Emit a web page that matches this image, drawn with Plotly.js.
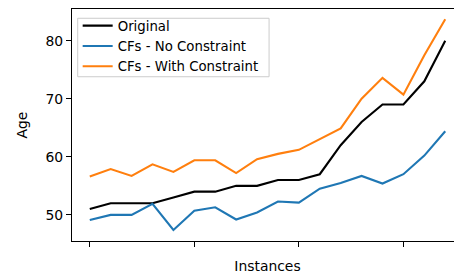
<!DOCTYPE html>
<html>
<head>
<meta charset="utf-8">
<script src="https://cdn.plot.ly/plotly-3.0.1.min.js"></script>
<style>
html,body{margin:0;padding:0;overflow:hidden;background:#fff;}
#chart{width:463px;height:276px;}
</style>
</head>
<body>
<div id="chart"></div>
<script>
const instances = [0,1,2,3,4,5,6,7,8,9,10,11,12,13,14,15,16,17];
const original = [51,52,52,52,53,54,54,55,55,56,56,57,62,66,69,69,73,80];
const cfsNoConstraint = [49.1,50,50,51.9,47.4,50.7,51.3,49.2,50.4,52.3,52.1,54.5,55.5,56.7,55.4,57,60.2,64.4];
const cfsWithConstraint = [56.6,57.9,56.7,58.7,57.4,59.4,59.4,57.2,59.6,60.5,61.2,63,64.9,70,73.6,70.7,77.5,83.7];
const seriesNames = ["Original","CFs - No Constraint","CFs - With Constraint"];
const xTicks = [0,5,10,15];
const yTicks = [50,60,70,80];

const font = "DejaVu Sans, sans-serif";
const traces = [
  {x: instances, y: original, name: seriesNames[0], mode: "lines", line: {color: "#000000", width: 2.1}},
  {x: instances, y: cfsNoConstraint, name: seriesNames[1], mode: "lines", line: {color: "#1f77b4", width: 2.1}},
  {x: instances, y: cfsWithConstraint, name: seriesNames[2], mode: "lines", line: {color: "#ff7f0e", width: 2.1}}
];
const layout = {
  width: 463, height: 276,
  margin: {l: 72, r: 0, t: 9, b: 35, pad: 0},
  paper_bgcolor: "#ffffff", plot_bgcolor: "#ffffff",
  font: {family: font, color: "#000000", size: 13.9},
  showlegend: true,
  legend: {
    x: 0.0145, y: 0.9935, xanchor: "left", yanchor: "top",
    bgcolor: "rgba(0,0,0,0)", borderwidth: 0,
    font: {family: font, size: 13.3, color: "#000000"},
    tracegroupgap: 0
  },
  shapes: [{
    type: "rect", xref: "paper", yref: "paper", layer: "above",
    x0: 0.0146, x1: 0.504, y0: 0.708, y1: 0.96,
    line: {color: "#cccccc", width: 1}, fillcolor: "rgba(255,255,255,0.8)"
  }],
  xaxis: {
    range: [-0.85, 17.85], tickmode: "array", tickvals: xTicks, showticklabels: false,
    ticks: "outside", ticklen: 5, tickwidth: 1.1, tickcolor: "#000000",
    showline: true, linecolor: "#000000", linewidth: 1.1, mirror: true,
    showgrid: false, zeroline: false,
    title: {text: "Instances", font: {family: font, size: 13.9, color: "#000000"}, standoff: 15}
  },
  yaxis: {
    range: [45.5, 85.45], tickmode: "array", tickvals: yTicks, ticktext: yTicks.map(String),
    ticks: "outside", ticklen: 5, tickwidth: 1.1, tickcolor: "#000000",
    tickfont: {family: font, size: 13.9, color: "#000000"},
    showline: true, linecolor: "#000000", linewidth: 1.1, mirror: true,
    showgrid: false, zeroline: false,
    title: {text: "Age", font: {family: font, size: 13.9, color: "#000000"}, standoff: 14}
  }
};
Plotly.newPlot("chart", traces, layout, {displayModeBar: false, staticPlot: true});
</script>
</body>
</html>
